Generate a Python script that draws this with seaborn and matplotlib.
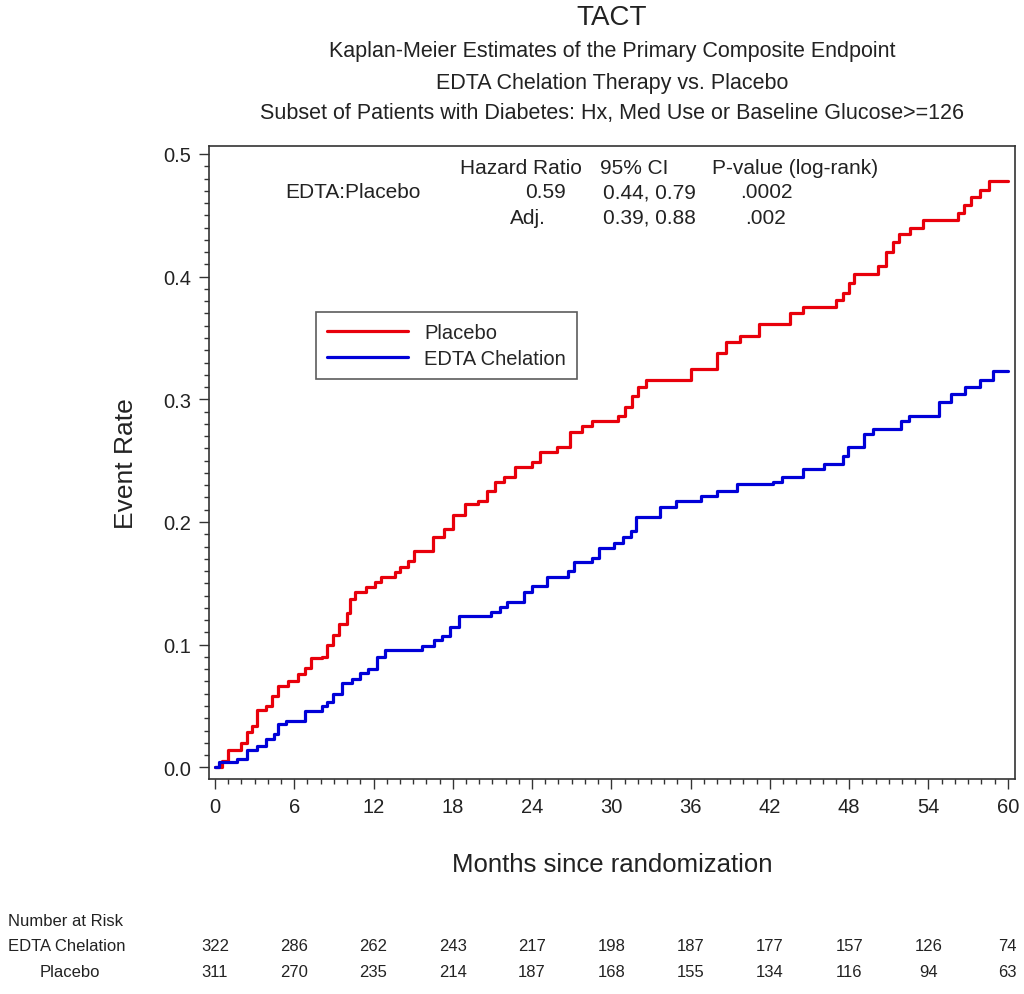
import numpy as np
import pandas as pd
import matplotlib
matplotlib.use('Agg')
import matplotlib.pyplot as plt
import matplotlib.transforms as mtransforms
from matplotlib.ticker import MultipleLocator
import seaborn as sns

# Kaplan-Meier step points (month, cumulative event rate)
placebo_months = [0, 0.5, 1.0, 2.0, 2.4, 2.8, 3.2, 3.9, 4.3, 4.8, 5.5, 6.3, 6.8, 7.3, 8.1,
                  8.5, 8.9, 9.4, 10.0, 10.2, 10.6, 11.4, 12.1, 12.6, 13.6, 14.0, 14.6, 15.1,
                  16.5, 17.3, 18.0, 18.9, 19.9, 20.6, 21.2, 21.9, 22.7, 24.0, 24.6, 25.9,
                  26.9, 27.8, 28.5, 30.5, 31.0, 31.6, 32.0, 32.6, 36.0, 38.0, 38.7, 39.7,
                  41.2, 43.5, 44.5, 47.0, 47.5, 48.0, 48.4, 50.2, 50.8, 51.3, 51.8, 52.6,
                  53.6, 56.2, 56.7, 57.2, 57.9, 58.6, 60.0]
placebo_rate = [0, 0.005, 0.014, 0.020, 0.029, 0.034, 0.047, 0.050, 0.058, 0.066, 0.070,
                0.076, 0.081, 0.089, 0.090, 0.100, 0.108, 0.117, 0.126, 0.137, 0.143, 0.147,
                0.151, 0.155, 0.159, 0.163, 0.168, 0.176, 0.188, 0.194, 0.206, 0.215, 0.217,
                0.225, 0.233, 0.237, 0.245, 0.249, 0.257, 0.261, 0.273, 0.278, 0.282, 0.286,
                0.294, 0.303, 0.310, 0.316, 0.325, 0.338, 0.347, 0.352, 0.361, 0.370, 0.375,
                0.381, 0.387, 0.395, 0.402, 0.409, 0.420, 0.428, 0.435, 0.440, 0.446, 0.452,
                0.458, 0.465, 0.471, 0.478, 0.478]

edta_months = [0, 0.3, 1.7, 2.4, 3.2, 3.9, 4.5, 4.8, 5.4, 6.8, 8.1, 8.5, 8.9, 9.6, 10.4,
               11.0, 11.6, 12.3, 12.9, 15.7, 16.6, 17.2, 17.8, 18.5, 20.9, 21.6, 22.1, 23.4,
               24.0, 25.1, 26.7, 27.2, 28.5, 29.1, 30.2, 30.9, 31.5, 31.9, 33.7, 34.9, 36.8,
               38.0, 39.5, 42.2, 42.9, 44.5, 46.1, 47.5, 47.9, 49.1, 49.8, 51.9, 52.5, 54.8,
               55.7, 56.8, 57.9, 58.9, 60.0]
edta_rate = [0, 0.004, 0.007, 0.014, 0.017, 0.023, 0.027, 0.035, 0.038, 0.046, 0.050, 0.053,
             0.060, 0.069, 0.072, 0.077, 0.080, 0.090, 0.096, 0.099, 0.104, 0.107, 0.114,
             0.123, 0.127, 0.131, 0.135, 0.143, 0.148, 0.155, 0.160, 0.167, 0.171, 0.179,
             0.183, 0.188, 0.193, 0.204, 0.212, 0.217, 0.221, 0.225, 0.231, 0.233, 0.237,
             0.243, 0.247, 0.254, 0.261, 0.272, 0.276, 0.282, 0.286, 0.298, 0.304, 0.310,
             0.316, 0.323, 0.323]

# Number at risk table
risk_months = [0, 6, 12, 18, 24, 30, 36, 42, 48, 54, 60]
risk_edta = [322, 286, 262, 243, 217, 198, 187, 177, 157, 126, 74]
risk_placebo = [311, 270, 235, 214, 187, 168, 155, 134, 116, 94, 63]

title_lines = ['Kaplan-Meier Estimates of the Primary Composite Endpoint',
               'EDTA Chelation Therapy vs. Placebo',
               'Subset of Patients with Diabetes: Hx, Med Use or Baseline Glucose>=126']

sns.set_style('ticks')
plt.rcParams['font.family'] = ['Liberation Sans', 'DejaVu Sans']

fig = plt.figure(figsize=(10.24, 9.95), dpi=100)
ax = fig.add_axes([209 / 1024, 1 - 780 / 995, 806 / 1024, 633 / 995])

RED = '#e8000b'
BLUE = '#0000d8'

sns.lineplot(x=placebo_months, y=placebo_rate, drawstyle='steps-post', color=RED,
             linewidth=2.3, estimator=None, label='Placebo', ax=ax)
sns.lineplot(x=edta_months, y=edta_rate, drawstyle='steps-post', color=BLUE,
             linewidth=2.3, estimator=None, label='EDTA Chelation', ax=ax)

ax.set_xlim(-0.45, 60.55)
ax.set_ylim(-0.0095, 0.5065)
ax.xaxis.set_major_locator(MultipleLocator(6))
ax.xaxis.set_minor_locator(MultipleLocator(1))
ax.yaxis.set_major_locator(MultipleLocator(0.1))
ax.yaxis.set_minor_locator(MultipleLocator(0.01))
ax.yaxis.set_major_formatter(plt.FuncFormatter(lambda v, p: f'{v:.1f}'))
ax.tick_params(which='major', length=7, width=1, colors='#333333', labelsize=14.5,
               labelcolor='#222222', pad=6)
ax.tick_params(which='minor', length=3.5, width=1, colors='#333333')
for s in ax.spines.values():
    s.set_visible(True)
    s.set_color('#333333')
    s.set_linewidth(1.2)

ax.set_xlabel('Months since randomization', fontsize=18.5, color='#222222', labelpad=26)
ax.set_ylabel('Event Rate', fontsize=19, color='#222222', labelpad=18)

# legend box
leg = ax.legend(loc='upper left', bbox_to_anchor=(0.133, 0.738), fontsize=14.5,
                frameon=True, fancybox=False, edgecolor='#333333', handlelength=4.0,
                borderpad=0.55, labelspacing=0.35, handletextpad=0.8, borderaxespad=0)
leg.get_frame().set_linewidth(1.2)

# titles
cx = (209 + 1015) / 2 / 1024
fig.text(cx, 1 - 18 / 995, 'TACT', ha='center', va='center', fontsize=20, color='#222222')
for i, line in enumerate(title_lines):
    fig.text(cx, 1 - (52 + 31 * i) / 995, line, ha='center', va='center', fontsize=15.5,
             color='#222222')

# hazard ratio block
stat_kw = dict(ha='left', va='center', fontsize=15, color='#222222')
fig.text(460 / 1024, 1 - 168 / 995, 'Hazard Ratio', **stat_kw)
fig.text(600 / 1024, 1 - 168 / 995, '95% CI', **stat_kw)
fig.text(712 / 1024, 1 - 168 / 995, 'P-value (log-rank)', **stat_kw)
fig.text(285 / 1024, 1 - 193 / 995, 'EDTA:Placebo', **stat_kw)
fig.text(525 / 1024, 1 - 193 / 995, '0.59', **stat_kw)
fig.text(603 / 1024, 1 - 193 / 995, '0.44, 0.79', **stat_kw)
fig.text(740 / 1024, 1 - 193 / 995, '.0002', **stat_kw)
fig.text(510 / 1024, 1 - 218 / 995, 'Adj.', **stat_kw)
fig.text(603 / 1024, 1 - 218 / 995, '0.39, 0.88', **stat_kw)
fig.text(745 / 1024, 1 - 218 / 995, '.002', **stat_kw)

# number at risk table
risk_kw = dict(va='center', fontsize=12, color='#222222')
fig.text(8 / 1024, 1 - 922 / 995, 'Number at Risk', ha='left', **risk_kw)
fig.text(8 / 1024, 1 - 947 / 995, 'EDTA Chelation', ha='left', **risk_kw)
fig.text(70 / 1024, 1 - 973 / 995, 'Placebo', ha='center', **risk_kw)
trans = mtransforms.blended_transform_factory(ax.transData, fig.transFigure)
for m, a, b in zip(risk_months, risk_edta, risk_placebo):
    ax.text(m, 1 - 947 / 995, str(a), ha='center', transform=trans, clip_on=False, **risk_kw)
    ax.text(m, 1 - 973 / 995, str(b), ha='center', transform=trans, clip_on=False, **risk_kw)

fig.savefig('out.png', dpi=100, facecolor='white')
